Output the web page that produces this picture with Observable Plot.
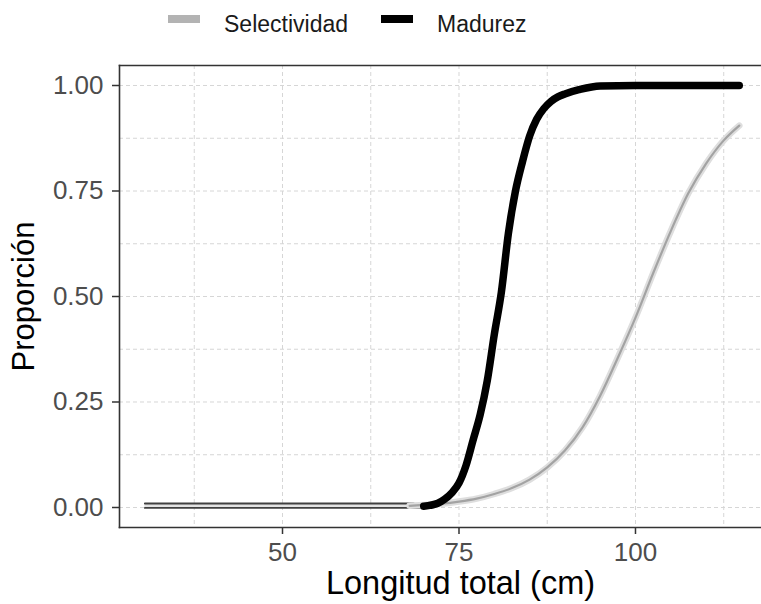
<!DOCTYPE html>
<html>
<head>
<meta charset="utf-8">
<script src="https://cdn.jsdelivr.net/npm/d3@7"></script>
<script src="https://cdn.jsdelivr.net/npm/@observablehq/plot@0.6"></script>
<style>
  html, body { margin: 0; padding: 0; background: white; }
  #wrap { position: relative; width: 761px; height: 604px; overflow: hidden; font-family: "Liberation Sans", Arial, sans-serif; }
  #legend { position: relative; width: 761px; height: 45px; }
  .key { position: absolute; top: 15px; width: 32px; height: 7.5px; }
  .lab { position: absolute; top: 13px; font-size: 23px; line-height: 1; color: #1a1a1a; white-space: nowrap; }
  #chart svg { display: block; }
</style>
</head>
<body>
<div id="wrap">
  <div id="legend"></div>
  <div id="chart"></div>
</div>
<script>
// ---- data ----
const seriesNames = ["Selectividad", "Madurez"];
const seriesColors = ["#b3b3b3", "#000000"];

// Selectividad curve (longitud total, proporción)
const selX = [68, 70, 72.5, 75, 77.5, 80, 82.5, 85, 87.5, 90, 92.5, 95, 97.5, 100, 102.5, 105, 107.5, 110, 112.5, 114.7];
const selY = [0.004, 0.006, 0.009, 0.014, 0.021, 0.032, 0.046, 0.066, 0.095, 0.135, 0.19, 0.265, 0.355, 0.45, 0.555, 0.655, 0.745, 0.815, 0.87, 0.905];

// Madurez curve
const madX = [70, 72, 73, 74, 75, 76, 77, 78, 79, 80, 81, 82, 83, 84, 85, 86, 87, 88, 89, 90, 92, 95, 100, 114.7];
const madY = [0.003, 0.010, 0.020, 0.035, 0.058, 0.10, 0.16, 0.22, 0.30, 0.41, 0.51, 0.65, 0.75, 0.82, 0.88, 0.92, 0.945, 0.962, 0.973, 0.980, 0.990, 0.999, 1.0, 1.0];

// thin lines at the lower left
const lowUpperX = [30.5, 68.6];
const lowUpperY = [0.0095, 0.0095];
const lowLowerX = [30.5, 69.9];
const lowLowerY = [-0.001, -0.001];

// axis ticks
const xTicks = [50, 75, 100];
const xGrid = [37.5, 50, 62.5, 75, 87.5, 100, 112.5];
const yTicks = [0, 0.25, 0.5, 0.75, 1];
const yGrid = [0, 0.125, 0.25, 0.375, 0.5, 0.625, 0.75, 0.875, 1];
const xTitle = "Longitud total (cm)";
const yTitle = "Proporción";

// ---- build tables ----
const sel = selX.map((x, i) => ({x, y: selY[i]}));
const mad = madX.map((x, i) => ({x, y: madY[i]}));
const lowUpper = lowUpperX.map((x, i) => ({x, y: lowUpperY[i]}));
const lowLower = lowLowerX.map((x, i) => ({x, y: lowLowerY[i]}));
const lowBand = [{x: lowUpperX[0], y1: lowLowerY[0], y2: lowUpperY[0]}, {x: lowUpperX[1], y1: lowLowerY[1], y2: lowUpperY[1]}];

// ---- legend ----
const legend = document.getElementById("legend");
const keyLefts = [168, 380.5];
const labLefts = [224, 437];
seriesNames.forEach((name, i) => {
  const k = document.createElement("div");
  k.className = "key";
  k.style.left = keyLefts[i] + "px";
  k.style.background = seriesColors[i];
  legend.appendChild(k);
  const t = document.createElement("div");
  t.className = "lab";
  t.style.left = labLefts[i] + "px";
  t.textContent = name;
  legend.appendChild(t);
});

const gridStyle = {stroke: "#d6d6d6", strokeOpacity: 1, strokeWidth: 1, strokeDasharray: "4,3"};
const font = "'Liberation Sans', Arial, sans-serif";

const plot = Plot.plot({
  width: 761,
  height: 559,
  marginTop: 20,
  marginBottom: 77,
  marginLeft: 119,
  marginRight: 0,
  style: {fontFamily: font, background: "white", overflow: "hidden"},
  x: {domain: [26.91, 117.85]},
  y: {domain: [-0.0474, 1.0474]},
  marks: [
    Plot.gridX(xGrid, gridStyle),
    Plot.gridY(yGrid, gridStyle),
    Plot.areaY(lowBand, {x: "x", y1: "y1", y2: "y2", fill: "#e3e3e3"}),
    Plot.line(lowUpper, {x: "x", y: "y", stroke: "#404040", strokeWidth: 1.8}),
    Plot.line(lowLower, {x: "x", y: "y", stroke: "#404040", strokeWidth: 1.8}),
    Plot.line(sel, {x: "x", y: "y", stroke: "#dedede", strokeWidth: 6.5, curve: "monotone-x"}),
    Plot.line(sel, {x: "x", y: "y", stroke: "#a3a3a3", strokeWidth: 2.2, curve: "monotone-x"}),
    Plot.line(mad, {x: "x", y: "y", stroke: "#000000", strokeWidth: 7.5, curve: "monotone-x"}),
    Plot.axisX(xTicks, {tickSize: 7, tickPadding: 8, fontSize: 26, stroke: "#333333", strokeWidth: 1.5, fill: "#4d4d4d", label: null}),
    Plot.axisY(yTicks, {tickSize: 7, tickPadding: 9, fontSize: 26, stroke: "#333333", strokeWidth: 1.5, fill: "#4d4d4d", label: null, tickFormat: d3.format(".2f")}),
    Plot.frame({anchor: "top", stroke: "#333333", strokeWidth: 1.6}),
    Plot.frame({anchor: "left", stroke: "#333333", strokeWidth: 1.6}),
    Plot.frame({anchor: "bottom", stroke: "#333333", strokeWidth: 1.6}),
    Plot.text([xTitle], {text: d => d, frameAnchor: "bottom", textAnchor: "middle", lineAnchor: "middle", dx: 20, dy: 56, fontSize: 32.5, fill: "#000000"}),
    Plot.text([yTitle], {text: d => d, frameAnchor: "left", textAnchor: "middle", lineAnchor: "middle", rotate: -90, dx: -95, fontSize: 31, fill: "#000000"})
  ]
});
document.getElementById("chart").appendChild(plot);
</script>
</body>
</html>
